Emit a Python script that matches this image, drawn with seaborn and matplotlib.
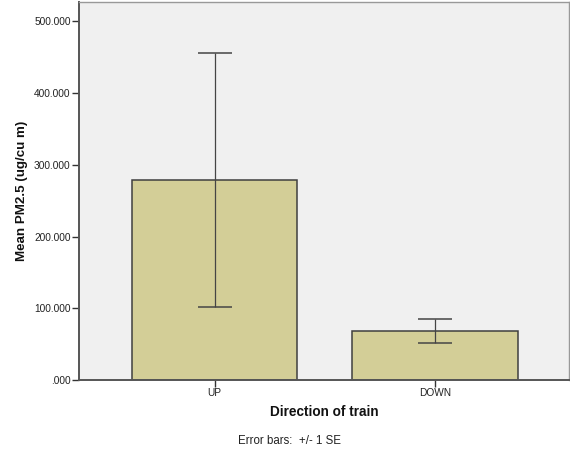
import matplotlib
matplotlib.use("Agg")
import matplotlib.pyplot as plt
import seaborn as sns
import pandas as pd

# Mean PM2.5 by train direction, with standard errors
directions = ["UP", "DOWN"]
mean_pm25 = [278.6, 68.9]
se_pm25 = [177.3, 16.8]

df = pd.DataFrame({"Direction": directions, "PM25": mean_pm25})

sns.set_style("white")
plt.rcParams["font.family"] = ["Liberation Sans", "DejaVu Sans"]

fig = plt.figure(figsize=(5.70, 4.54), dpi=100)
ax = fig.add_axes([79 / 570, 1 - 380 / 454, 490 / 570, 378 / 454])
ax.set_facecolor("#F0F0F0")

sns.barplot(data=df, x="Direction", y="PM25", order=directions,
            color="#D3CE97", saturation=1, width=0.75, errorbar=None,
            edgecolor="#3F3F3F", linewidth=1.1, ax=ax)

ax.errorbar(range(len(directions)), mean_pm25, yerr=se_pm25, fmt="none",
            ecolor="#454545", elinewidth=0.9, capsize=12.5, capthick=1.1,
            zorder=5)

ax.set_xlim(-0.614, 1.606)
ax.set_ylim(0, 527)
ax.set_yticks([0, 100, 200, 300, 400, 500])
ax.set_yticklabels([".000", "100.000", "200.000", "300.000", "400.000", "500.000"])

for side in ["left", "bottom"]:
    ax.spines[side].set_color("#555555")
    ax.spines[side].set_linewidth(1.4)
for side in ["top", "right"]:
    ax.spines[side].set_color("#999999")
    ax.spines[side].set_linewidth(1.0)

ax.tick_params(axis="both", which="major", direction="out", length=5,
               width=1.0, color="#333333", labelsize=7.3, labelcolor="#222222",
               left=True, bottom=True, pad=1)

ax.set_xlabel("Direction of train", fontsize=9.8, fontweight="bold",
              color="#111111", labelpad=5)
ax.set_ylabel("Mean PM2.5 (ug/cu m)", fontsize=9.6, fontweight="bold",
              color="#111111", labelpad=4)

fig.text(289.5 / 570, 1 - 441 / 454, "Error bars:  +/- 1 SE", ha="center",
         va="center", fontsize=8.3, color="#222222")

fig.savefig("out.png", dpi=100, facecolor="white")
